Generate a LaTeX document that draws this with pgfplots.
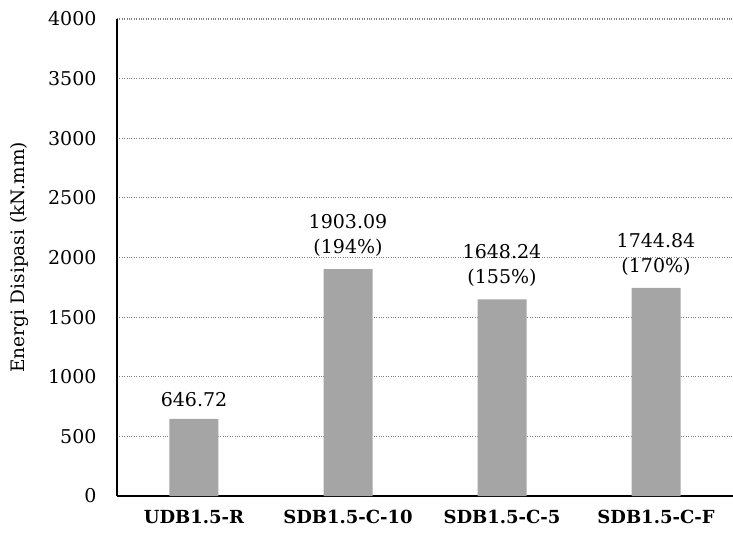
\documentclass[border=0pt]{standalone}
\usepackage{fontspec}
\setmainfont{DejaVu Serif}
\usepackage{pgfplots}
\pgfplotsset{compat=1.18}
\definecolor{bargray}{HTML}{A5A5A5}
\begin{document}
\begin{tikzpicture}
\path[use as bounding box] (-117pt,-37pt) rectangle (616pt,496pt);
\begin{axis}[
  at={(0,0)}, anchor=south west, scale only axis,
  width=616pt, height=477pt,
  xmin=-0.5, xmax=3.5, ymin=0, ymax=4000,
  ytick={0,500,...,4000},
  xtick={0,1,2,3},
  xticklabels={UDB1.5-R,SDB1.5-C-10,SDB1.5-C-5,SDB1.5-C-F},
  axis x line=bottom, axis y line=left,
  axis line style={-, black, line width=1.5pt},
  ymajorgrids, grid style={gray, dotted, line width=1.2pt},
  major tick length=0pt,
  /pgf/number format/assume math mode=true,
  scaled y ticks=false,
  y tick label style={/pgf/number format/1000 sep={}, font=\fontsize{19}{22}\selectfont, anchor=east, xshift=-17pt},
  x tick label style={font=\fontsize{18}{20}\selectfont\bfseries, yshift=-11pt},
  ylabel={Energi Disipasi (kN.mm)},
  every axis y label/.style={at={(axis description cs:-0.1575,0.5)}, rotate=90, anchor=center, font=\fontsize{18.5}{22}\selectfont},
]
\addplot[ybar, bar width=49pt, fill=bargray, draw=none,
  nodes near coords, point meta=explicit symbolic,
  nodes near coords style={align=center, font=\fontsize{19}{25}\selectfont, anchor=south, yshift=9pt}]
  coordinates {
    (0,646.72) [646.72]
    (1,1903.09) [{1903.09\\(194\%)}]
    (2,1648.24) [{1648.24\\(155\%)}]
    (3,1744.84) [{1744.84\\(170\%)}]
  };
\end{axis}
\end{tikzpicture}
\end{document}
